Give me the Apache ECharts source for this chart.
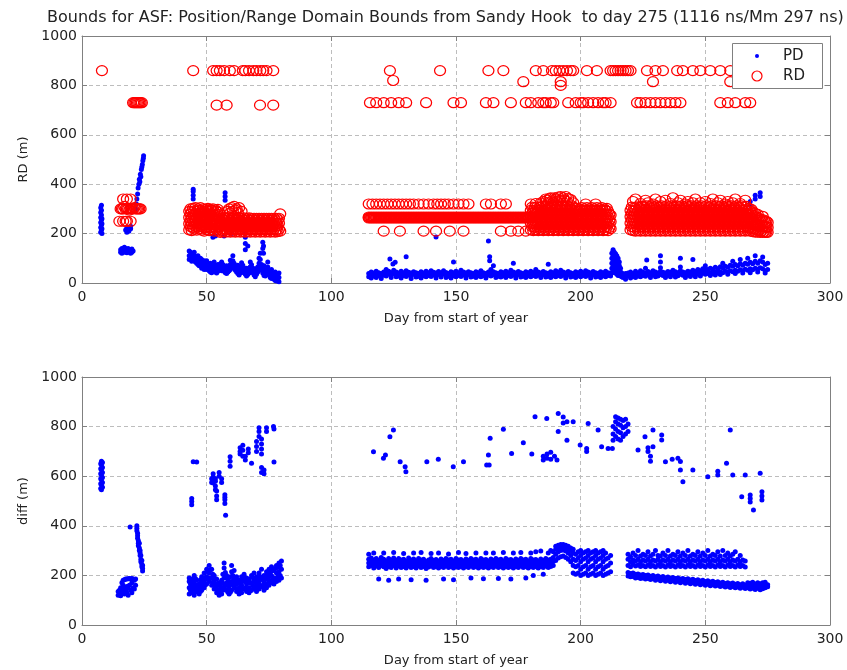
<!DOCTYPE html>
<html><head><meta charset="utf-8">
<script src="https://cdn.jsdelivr.net/npm/echarts@6/dist/echarts.min.js"></script>
<style>html,body{margin:0;padding:0;background:#fff}#c{width:847px;height:670px}</style>
</head><body><div id="c"></div>
<script>
// ---- tick values ----
const xTicks = [0, 50, 100, 150, 200, 250, 300];
const yTicks = [0, 200, 400, 600, 800, 1000];
const titleText = 'Bounds for ASF: Position/Range Domain Bounds from Sandy Hook  to day 275 (1116 ns/Mm 297 ns)';
const legendNames = ['PD', 'RD'];
// rows: [day, value, value, ...]
// ---- PD (top, blue dots) ----
const pdEarly = [
 [7.5,205,225,245,265,285,305],[7.8,215,235,255,275,295,315],[8,200,220,240,260],
 [15.5,125,135],[16,130,140,120],[16.5,128,138],[17,125,135,145],[17.5,130,140,215],[18,122,133,205,225],
 [18.5,128,140],[18.8,210],[19,126,136],[19.5,130,120,220,230],[20,125,138],[20.5,130],
 [21.5,300],[21.8,320],[22,340],[22.3,360],[22.5,385],[22.8,400],[23,420],[23.2,410],[23.4,440],
 [23.6,430],[23.8,460],[24,470],[24.2,480],[24.4,495],[24.6,505],[24.7,515]
];
const pdMid = [
 [43,130,110,95],[43.5,125,100],[44,120,105,88],[44.5,115,95],[44.6,340,355,370,380],[45,110,90,125],[45.5,100,85],
 [46,105,80],[46.5,95,75,110],[47,90,70],[47.5,100,80],[48,95,72,60],[48.5,85,65],[49,90,70,55],
 [49.5,80,60],[50,70,55,90],[50.5,75,58],[51,68,50],[51.5,62,45,80],[52,58,42],[52.5,65,48,185],
 [53,70,52,85],[53.5,60,45,190],[54,55,40],[54.5,62,48,75],[55,70,55],[55.5,78,60],[56,85,66,50],
 [56.5,75,55],[57,65,48,190],[57.4,335,350,365],[57.5,58,42],[58,52,38,70],[58.5,60,45],[59,68,50],
 [59.5,75,55,92],[60,82,62,200],[60.5,90,70,110],[61,80,60],[61.5,70,52],[62,62,45],[62.5,55,38,72],
 [63,48,32],[63.5,58,40],[64,65,48,82],[64.5,72,55],[65,60,42],[65.5,50,35,135,160,185,200],[66,42,28,60],
 [66.5,50,34,150],[67,58,40],[67.5,66,48,85],[68,74,55],[68.5,60,42],[69,48,32],[69.5,40,25,58],
 [70,52,35],[70.5,65,45],[71,80,58,100],[71.5,95,70,120],[72,75,52],[72.5,60,40,140,165],[72.8,120,150],
 [73,50,30,70],[73.5,45,28],[74,55,35],[74.5,65,45,85],[75,50,32],[75.5,40,22],[76,35,18,55],
 [76.5,42,25],[77,30,15],[77.5,25,10,45],[78,20,8],[78.5,30,12],[79,22,5,40]
];
const pdLate = [
 [115,25,38],[116,30,45,20],[117,28,40],[118,22,35,48],[119,30,42],[120,26,38,18],[121,32,45],
 [122,28,40,55],[123,35,48],[123.5,97],[124,30,42,22],[124.7,77],[125,38,52],[125.6,84],[126,32,45,25],
 [127,28,40],[128,34,48,20],[129,30,42],[130,26,38,50,106],[131,32,44],[132,28,40,18],[133,35,46],
 [134,30,42,24],[135,27,38],[136,33,46,20],[137,29,40],[138,35,48,25],[139,30,42],[140,26,37,50],
 [141,32,44],[142,28,40,20,186],[143,34,47],[144,30,42,24],[145,36,50],[146,30,43,22],[147,27,38],
 [148,33,46,20],[149,29,41,85],[150,35,48,25],[151,30,42],[152,26,38,52],[153,32,45],[154,28,40,20],
 [155,34,46],[156,30,42,24],[157,27,38],[158,33,46,22],[159,29,41],[160,35,50,25],[161,30,42],
 [162,26,38,20],[163,32,45,170],[163.5,90,106],[164,28,40,55],[165,34,46,70],[166,30,42,22],[167,27,38],
 [168,33,46,24],[169,29,41],[170,35,48,22],[171,30,42],[172,26,38,52],[173,32,45,80],[174,28,40,20],
 [175,34,47],[176,30,42,24],[177,27,38],[178,33,46,22],[179,29,41],[180,35,48,25],[181,30,43],
 [182,26,39,55],[183,32,45],[184,28,40,22],[185,34,47],[186,30,42,24],[187,27,39,76],[188,33,46,22],
 [189,29,41],[190,35,50,25],[191,30,43],[192,26,38,52],[193,32,45],[194,28,40,20],[195,34,47],
 [196,30,42,24],[197,27,38],[198,33,46,22],[199,29,41],[200,35,48,25],[201,30,42],[202,26,38,50],
 [203,32,45],[204,28,40,20],[205,34,47],[206,30,42,24],[207,27,39],[208,33,46,22],[209,29,41],
 [210,35,48,25],[211,30,42],[212,28,40],
 [212.5,40,60,80,100,120],[213,50,70,90,110,130,135],[213.5,45,65,85,105,125],[214,40,60,80,100,118],
 [214.5,35,55,75,95,110],[215,30,50,70,90,100],[215.5,30,50,70,85],[216,28,45,60],[216.5,25,40],
 [217,22,35],[218,25,38,15],[219,28,40],[220,30,45,20],[221,26,38],[222,32,48,22],[223,28,40],
 [224,35,50,25],[225,30,44],[226,27,40,60],[226.5,93],[227,33,47],[228,29,42,22],[229,35,50],
 [230,31,45,25],[231,28,40],[232,34,48,62,85,110],[233,30,44],[234,27,40,22],[235,33,47],
 [236,30,44,25],[237,36,52],[238,32,46,24],[239,29,42],[240,35,50,65,100],[241,31,45],[242,28,42,22],
 [243,34,48],[244,30,45,26],[245,36,52,95],[246,32,47,25],[247,38,55],[248,34,50,28],[249,40,58],
 [250,35,52,70],[251,38,55],[252,42,60,30],[253,38,56],[254,44,64,32],[255,40,58],[256,46,66,34],
 [257,42,62,80],[258,48,68],[259,44,64,35],[260,50,72],[261,46,68,88],[262,52,75,38],[263,48,70],
 [264,54,78,95],[265,50,72,40],[266,56,80],[267,52,76,100],[268,58,84,42,315,330],[269,54,78],
 [270,60,88,110,340,355],[271,56,80,45],[272,62,90,350,365],[273,58,85,105],[274,50,75,40],[275,55,80]
];
// ---- RD (top, red circles) ----
const rdEarly = [
 [8,860],[15,250],[15.5,300],[16,300],[16.5,250,300,340],[17,310],[17.5,300,250],[18,250,300,340],[18.5,300],[19,295],
 [19.5,250,300,340],[20,300],[20.5,300,730],[21,305,730],[21.5,300,730],[22,300,730],[22.5,300,730],
 [23,300,730],[23.5,300,730],[24,730]
];
const rdMidTop = [
 [44.6,860],[52.6,860],[54,720,860],[55.3,860],[57,860],[58,720],[59.3,860],[61,860],[64.5,860],
 [65.5,860],[67,860],[68.7,860],[70,860],[71.4,720],[71.5,860],[72.7,860],[74,860],[76.7,720,860]
];
const rdMid = [
 [43,215,240,265,290],[43.5,228,252,278,300],[44,212,238,262,288],[44.5,225,250,275,302],[45,218,244,268,292],
 [45.5,230,255,280,305],[46,214,240,266,290],[46.5,226,250,276,300],[47,218,242,268,294],[47.5,230,256,282,305],
 [48,214,238,264,290],[48.5,226,252,278,300],[49,210,236,262,288],[49.5,224,250,276,298],[50,216,242,268,292],
 [50.5,228,254,280,302],[51,212,238,264,290],[51.5,224,250,276,298],[52,216,242,268,294],[52.5,228,254,280,300],
 [53,210,236,262,288],[53.5,222,248,274,296],[54,214,240,266,290],[54.5,226,252,278,298],[55,210,236,262,286],
 [55.5,205,228,252],[56,215,240,262],[56.5,208,232,256],[57,218,242,265],[57.5,206,230,254],[58,216,240,262],
 [58.5,208,232,256,290],[59,218,242,266,300],[59.5,206,230,254,285],[60,216,240,264,305],[60.5,208,232,256,290],
 [61,218,242,266,310],[61.5,206,230,254,295],[62,216,240,264,300],[62.5,208,232,256,285],[63,218,242,266,305],
 [63.5,206,230,254],[64,216,240,262,290],[64.5,208,232,256],[65,218,242,264],[65.5,206,230,254],[66,216,240,262],
 [66.5,208,232,256],[67,218,242,264],[67.5,206,230,254],[68,216,240,262],[68.5,208,232,256],[69,218,242,262],
 [69.5,206,230,254],[70,216,240,262],[70.5,208,232,256],[71,218,242,262],[71.5,206,230,254],[72,216,240,262],
 [72.5,208,232,256],[73,218,242,262],[73.5,206,230,254],[74,216,240,262],[74.5,208,232,256],[75,218,242,262],
 [75.5,206,230,254],[76,216,240,262],[76.5,208,232,256],[77,218,242,262],[77.5,206,230,254],[78,216,240,262],
 [78.5,208,232,256],[79,218,242,262],[79.5,280,210]
];
const rdLateTop = [
 [115.5,730],[118,730],[121,730],[123.5,860],[124,730],[124.8,820],[127,730],[130,730],[138,730],
 [143.6,860],[149,730],[152,730],[162,730],[163,860],[165,730],[169,860],[172,730],[177,815],[178,730],
 [180,730],[182,860],[183,730],[185,730,860],[186,730],[188,730],[188.5,860],[189,730],[190,860],
 [191.5,860],[192,815,800],[193,860],[194.5,860],[195,730],[196,860],[197,860],[198,730],[200,730],
 [201,730],[202.5,860],[203,730],[205,730],[206.5,860],[207,730],[209,730],[210,730],[212,730,860],
 [213,860],[214,860],[215,860],[216,860],[217,860],[218,860],[219,860],[220,860],
 [222.6,730],[224,730],[226,730],[226.6,860],[228,730],[229,815],[230,730,860],[232,730],[233,860],
 [234,730],[236,730],[238,730],[238.7,860],[240,730],[241,860],[245,860],[248,860],[252,860],
 [256,730,860],[259,730],[260,860,815],[262,730],[266,730],[268,730]
];
const rdBand = [
 [115,263,267,320],[115.5,265],[116,263,267],[116.5,265,320],[117,263,267],[117.5,265],[118,263,267,320],
 [118.5,265],[119,263,267],[119.5,265,320],[120,263,267],[120.5,265],[121,263,267,320,210],[121.5,265],
 [122,263,267],[122.5,265,320],[123,263,267],[123.5,265],[124,263,267,320],[124.5,265],[125,263,267],
 [125.5,265,320],[126,263,267],[126.5,265],[127,263,267,320],[127.5,265,210],[128,263,267],[128.5,265,320],
 [129,263,267],[129.5,265],[130,263,267,320],[130.5,265],[131,263,267],[131.5,265,320],[132,263,267],
 [132.5,265],[133,263,267,320],[133.5,265],[134,263,267],[134.5,265],[135,263,267,320],[135.5,265],
 [136,263,267],[136.5,265],[137,263,267,320,210],[137.5,265],[138,263,267],[138.5,265],[139,263,267,320],
 [139.5,265],[140,263,267],[140.5,265],[141,263,267,320],[141.5,265],[142,263,267,210],[142.5,265,320],
 [143,263,267],[143.5,265],[144,263,267,320],[144.5,265],[145,263,267],[145.5,265,320],[146,263,267],
 [146.5,265],[147,263,267,320],[147.5,265,210],[148,263,267],[148.5,265],[149,263,267,320],[149.5,265],
 [150,263,267],[150.5,265],[151,263,267,320],[151.5,265],[152,263,267],[152.5,265],[153,263,267,320,210],
 [153.5,265],[154,263,267],[154.5,265],[155,263,267,320],[155.5,265],[156,263,267],[156.5,265],
 [157,263,267],[157.5,265],[158,263,267],[158.5,265],[159,263,267],[159.5,265],[160,263,267],
 [160.5,265],[161,263,267],[161.5,265],[162,263,267,320],[162.5,265],[163,263,267],[163.5,265],
 [164,263,267,320],[164.5,265],[165,263,267],[165.5,265],[166,263,267],[166.5,265],[167,263,267],
 [167.5,265],[168,263,267,320,210],[168.5,265],[169,263,267],[169.5,265],[170,263,267,320],[170.5,265],
 [171,263,267],[171.5,265],[172,263,267,210],[172.5,265],[173,263,267],[173.5,265],[174,263,267],
 [174.5,265],[175,263,267,210],[175.5,265],[176,263,267],[176.5,265],[177,263,267],[177.5,265],
 [178,263,267,210],[178.5,265],[179,263,267],[179.5,265]
];
const rdCluster1 = [
 [180,215,242,268,294,320],[180.5,228,255,281,307],[181,212,240,266,292],[181.5,225,252,278,305],
 [182,215,242,268,296,322],[182.5,228,255,282,308],[183,212,240,266,292],[183.5,225,252,279,306],
 [184,215,242,268,296,324],[184.5,228,255,282,310],[185,212,240,266,294,330],[185.5,225,252,280,308],
 [186,215,242,268,296,340],[186.5,228,255,282,312,335],[187,212,240,266,294,325],[187.5,225,252,280,308,342],
 [188,215,242,268,296,345],[188.5,228,255,282,312,332],[189,212,240,266,294,325],[189.5,225,252,280,308,345],
 [190,215,242,268,296,340],[190.5,228,255,282,312,330],[191,212,240,266,294,348],[191.5,225,252,280,308,335],
 [192,215,242,268,296,350],[192.5,228,255,282,312,332],[193,212,240,266,294,345],[193.5,225,252,280,308,335],
 [194,215,242,268,296,350],[194.5,228,255,282,312,330],[195,212,240,266,294,342],[195.5,225,252,280,308],
 [196,215,242,268,296,338],[196.5,228,255,282,312],[197,212,240,266,294,325],[197.5,225,252,280,305],
 [198,215,242,268,292],[198.5,228,255,280,302],[199,212,240,266,290],[199.5,225,252,278,300],
 [200,215,242,268,294],[200.5,228,255,280,305],[201,212,240,266,292],[201.5,225,252,278,300],
 [202,215,242,268,294,320],[202.5,228,255,280,305],[203,212,240,266,292],[203.5,225,252,278,300],
 [204,215,242,268,294],[204.5,228,255,280,305],[205,212,240,266,292],[205.5,225,252,278,300],
 [206,215,242,268,294,320],[206.5,228,255,280,305],[207,212,240,266,292],[207.5,225,252,278,300],
 [208,215,242,268,294],[208.5,228,255,280,305],[209,212,240,266,292],[209.5,225,252,278,300],
 [210,215,242,268,294],[210.5,228,255,280,302],[211,212,240,266,290],[211.5,225,252,278],[212,220,248,275]
];
const rdCluster2 = [
 [220,215,242,268,294],[220.5,228,255,281,307],[221,212,240,266,292,330],[221.5,225,252,278,305],
 [222,210,242,268,296,340],[222.5,228,255,282,308],[223,212,240,266,292],[223.5,225,252,279,306],
 [224,210,242,268,296,322],[224.5,228,255,282,310],[225,212,240,266,294],[225.5,225,252,280,308],
 [226,210,242,268,296,335],[226.5,228,255,282,312],[227,212,240,266,294,325],[227.5,225,252,280,308],
 [228,210,242,268,296],[228.5,228,255,282,312],[229,212,240,266,294,320],[229.5,225,252,280,308],
 [230,210,242,268,296,340],[230.5,228,255,282,312],[231,212,240,266,294],[231.5,225,252,280,308],
 [232,210,242,268,296,330],[232.5,228,255,282,312],[233,212,240,266,294],[233.5,225,252,280,308],
 [234,210,242,268,296,335],[234.5,228,255,282,312],[235,212,240,266,294],[235.5,225,252,280,308],
 [236,210,242,268,296,322],[236.5,228,255,282,312],[237,212,240,266,294,345],[237.5,225,252,280,308],
 [238,210,242,268,296],[238.5,228,255,282,312],[239,212,240,266,294,325],[239.5,225,252,280,308],
 [240,210,242,268,296,335],[240.5,228,255,282,312],[241,212,240,266,294],[241.5,225,252,280,308],
 [242,210,242,268,296,320],[242.5,228,255,282,312],[243,212,240,266,294,330],[243.5,225,252,280,308],
 [244,210,242,268,296],[244.5,228,255,282,312],[245,212,240,266,294,325],[245.5,225,252,280,308],
 [246,210,242,268,296,340],[246.5,228,255,282,312],[247,212,240,266,294],[247.5,225,252,280,308],
 [248,210,242,268,296,325],[248.5,228,255,282,312],[249,212,240,266,294],[249.5,225,252,280,308],
 [250,210,242,268,296,330],[250.5,228,255,282,312],[251,212,240,266,294],[251.5,225,252,280,308],
 [252,210,242,268,296,322],[252.5,228,255,282,312],[253,212,240,266,294,340],[253.5,225,252,280,308],
 [254,210,242,268,296],[254.5,228,255,282,312],[255,212,240,266,294,325],[255.5,225,252,280,308],
 [256,210,242,268,296,335],[256.5,228,255,282,312],[257,212,240,266,294],[257.5,225,252,280,308],
 [258,210,242,268,296,320],[258.5,228,255,282,312],[259,212,240,266,294,330],[259.5,225,252,280,308],
 [260,210,242,268,296],[260.5,228,255,282,312],[261,212,240,266,294,325],[261.5,225,252,280,308],
 [262,210,242,268,296,340],[262.5,228,255,282,312],[263,212,240,266,294],[263.5,225,252,280,308],
 [264,210,242,268,296,322],[264.5,228,255,282,312],[265,212,240,266,294],[265.5,225,252,280,308],
 [266,210,242,268,296,335],[266.5,228,255,282,310],[267,212,240,266,292],[267.5,222,250,278,302],
 [268,210,238,264,290],[268.5,220,248,276,298],[269,208,236,262,288],[269.5,218,246,272],
 [270,206,232,258,282],[270.5,216,242,268],[271,206,230,255,278],[271.5,212,238,262],
 [272,205,228,252],[272.5,210,235,258],[273,205,228,250,270],[273.5,208,232,255],
 [274,205,225,248],[274.5,206,228,250],[275,205,225,245]
];
// ---- diff (bottom, blue dots) ----
const diffEarly = [
 [7.5,550,570,590,610,630,650],[7.8,545,565,585,605,625,645,660],[8.2,555,575,595,615,635,655],
 [14.5,120,135],[15,125,140],[15.5,118,130,150],[16,128,145,170],[16.5,135,160,180],[17,125,150,182],
 [17.5,140,185],[18,130,155,185],[18.5,120,150,186],[19,160,188],[19.3,395],[19.5,140,185],
 [20,130,170,188],[20.5,150,185],[21,145,180],[21.5,160,185],
 [22,400,390,380],[22.3,370,360,350],[22.6,340,330,320],[23,330,310,300],[23.3,300,290,280],
 [23.6,280,265,255],[24,260,245,235],[24.3,240,228,218]
];
const diffMid = [
 [43,125,150,175,190],[43.5,140,165],[44,130,160,185,485,498,510],[44.5,150,175],[44.6,658],[45,120,145,170,200],
 [45.5,132,160,188],[46,135,155,180,657],[46.5,140,162],[47,125,150,165],[47.5,135,158,182],[48,140,170,195],
 [48.5,155,185],[49,150,175,210],[49.5,162,192],[50,165,195,225],[50.5,185,215],[51,175,210,240],[51.5,190,222],
 [52,160,190,225,575,590],[52.5,172,205],[52.6,573,585,597,610],[53,145,170,200],[53.5,580,590,560,545,158,185],
 [54,130,155,185,540,520,505],[54.5,140,168],[55,120,140,170,600,615],[55.5,130,158],[56,125,150,180,575,590],
 [56.5,140,168,205],[57,150,190,230,250],[57.3,490,505,515,525],[57.5,162,212],[57.6,443],[58,140,170,200],
 [58.5,132,158,185],[59,125,150,175],[59.4,678,660,640],[59.5,132,162,195],[60,140,175,215,240],[60.5,165,200],
 [61,155,185,220],[61.5,148,178],[62,135,165,195],[62.5,140,172],[63,125,150,180],[63.4,715,700,690],
 [63.5,138,165],[64,130,160,195],[64.5,725,705,680,145,178],[65,145,175,205],[65.5,665,680,150,190],
 [66,135,165,190],[66.5,142,178],[66.7,695,710],[67,130,150,185],[67.5,138,168],[68,140,170,200,652],
 [68.5,158,192],[69,150,180,210],[69.5,145,172],[70,135,165,195,700,720,740],[70.5,152,185],
 [71,145,175,210,760,780,795],[71.5,160,195],[72,155,190,225,690,710,730,750,615,635],[72.5,152,182],
 [73,140,170,200,610,625],[73.5,158,192],[74,150,185,215,780,795],[74.5,168,205],[75,160,195,225],
 [75.5,178,212],[76,170,200,235],[76.5,182,220],[76.8,800],[77,165,190,220,790,657],[77.5,188,228],
 [78,175,210,240],[78.5,195,232],[79,180,215,250],[79.5,200,240],[80,190,225,258]
];
const diffUpper = [
 [116.9,699],[120.9,672],[121.7,685],[123.5,759],[124.9,786],[127.6,658],[129.6,638],[129.9,618],
 [138.3,658],[142.9,668],[148.9,638],[153,658],[162.3,645],[163.3,645],[163,685],[163.7,753],
 [169,789],[172.3,692],[177,735],[180.4,690],[181.7,840],[186.4,833],[185,665,680],[186.5,672,690],
 [188,668,697],[189.5,680],[190.5,665],[191,853,780],[193,815,839],[194.5,820,745],[197,820],
 [199.8,726],[202.4,712,700],[203,813],[207,786],[208.4,719],[211,712],[212.7,712],
 [213,745,770,800],[214,760,790,820,840],[215,750,780,810,835],[216,745,775,805,830],[217,760,795,825],
 [218,770,800,830],[219,780,810],
 [223,706],[225.8,759],[227,700,715],[228,680,660],[229,786,719],[232.5,746,766],[234,658],[236.7,668],
 [239,672],[240,625,659],[241,578],[245,625],[251,598],[255,605,620],[258.5,652],[260,786],[261,605],
 [264.6,517],[266,605],[268,496,510,524],[269.3,464],[272,612],[272.7,504,520,537]
];
const diffLate = [
 [115,235,250,265,285],[116,240,255,270],[117,230,248,262,290],[118,238,252,268],[119,232,246,260,185],
 [120,240,255,272],[121,235,250,265,290],[122,228,244,258],[123,236,252,268,180],[124,232,248,262],
 [125,240,255,270,292],[126,230,245,260],[127,238,252,268,185],[128,232,248,262],[129,236,250,265,288],
 [130,230,245,258],[131,238,254,270],[132,232,248,262,182],[133,236,250,266,290],[134,230,244,258],
 [135,238,252,268],[136,232,248,262,292],[137,236,250,265],[138,228,242,256,180],[139,234,248,262],
 [140,238,252,268,288],[141,232,246,260],[142,236,250,264],[143,230,244,258,290],[144,236,250,266],
 [145,232,246,260,185],[146,238,252,268],[147,232,246,262,286],[148,236,250,265],[149,230,244,258,182],
 [150,236,252,268],[151,232,246,262,292],[152,236,250,264],[153,230,244,258],[154,236,250,266,288],
 [155,232,246,260],[156,238,252,268,190],[157,232,246,262],[158,236,250,265,290],[159,230,244,258],
 [160,236,252,268],[161,232,246,262,186],[162,236,250,264,290],[163,230,244,258],[164,236,250,266],
 [165,232,246,260,290],[166,238,252,268],[167,232,246,262,188],[168,236,250,265],[169,230,244,258,292],
 [170,236,252,268],[171,232,246,262],[172,236,250,264,185],[173,230,244,258,290],[174,236,250,266],
 [175,232,246,260],[176,238,252,268,292],[177,232,246,262],[178,236,250,265,190],[179,230,244,258],
 [180,236,252,268,290],[181,232,246,262,200],[182,236,250,264,295],[183,230,244,258],[184,236,250,266,298],
 [185,232,246,260,205],[186,238,252,268],[187,232,246,262,290],[188,236,250,265,300],[189,240,256,272,295],
 [190,260,285,305,318],[191,270,295,312,322],[192,275,300,315,325],[193,278,302,318,325],
 [194,272,298,315,322],[195,265,290,308,318],[196,255,280,300,310],[197,210,240,265,290,305],
 [198,205,235,260,285],[199,210,240,270,295],[200,200,225,255,280,300],[201,205,235,265,290],
 [202,210,240,270,295],[203,200,225,255,280,300],[204,205,235,265,290],[205,210,240,270,295],
 [206,200,225,255,280,300],[207,205,235,265,290],[208,210,240,270,295],[209,200,225,255,280,300],
 [210,205,235,265,290],[211,210,240,270],[212,215,250,280],
 [219,198,212,240,265,285],[220,195,208,235,255,275],[221,196,210,245,262,290],[222,190,205,238,258,280],
 [223,192,206,242,265,300],[224,188,202,236,255,278],[225,190,204,240,262,285],[226,185,200,235,258,280],
 [227,188,202,242,265,295],[228,183,197,236,255,278],[229,186,200,240,262,285],[230,180,195,234,258,300],
 [231,184,198,242,265,280],[232,178,193,236,255,278],[233,182,196,240,262,290],[234,176,190,234,258,280],
 [235,180,194,242,265,300],[236,174,189,236,255,278],[237,178,192,240,262,285],[238,172,187,234,258,280],
 [239,176,190,242,265,295],[240,170,185,236,255,278],[241,174,188,240,262,290],[242,168,183,234,258,280],
 [243,172,186,242,265,300],[244,166,181,236,255,278],[245,170,184,240,262,285],[246,164,179,234,258,280],
 [247,168,182,242,265,295],[248,162,177,236,255,278],[249,166,180,240,262,290],[250,160,175,234,258,280],
 [251,164,178,242,265,300],[252,158,173,236,255,278],[253,162,176,240,262,285],[254,157,171,234,258,280],
 [255,160,174,242,265,295],[256,155,169,236,255,278],[257,158,172,240,262,300],[258,153,167,234,258,280],
 [259,156,170,242,265,290],[260,151,166,236,255,278],[261,155,169,240,262,285],[262,150,164,234,258,295],
 [263,153,167,242,265],[264,148,162,236,255,280],[265,152,166,240,262],[266,147,160,234,258],
 [267,160,150,170],[268,155,145,168],[269,158,148,172],[270,153,143,165],[271,157,148,170],
 [272,152,142,166],[273,156,146,170],[274,150,160,172],[275,154,162]
];

function expand(rows) {
  const out = [];
  rows.forEach(r => { for (let i = 1; i < r.length; i++) out.push([r[0], r[i]]); });
  return out;
}
const pd = [pdEarly, pdMid, pdLate].map(expand).flat();
const rd = [rdEarly, rdMidTop, rdMid, rdLateTop, rdBand, rdCluster1, rdCluster2].map(expand).flat();
const diff = [diffEarly, diffMid, diffUpper, diffLate].map(expand).flat();

const FONT = 'DejaVu Sans';
const axisColor = '#808080';
const txtColor = '#222';
const gridLine = {show: true, lineStyle: {color: '#bdbdbd', type: [4, 3], width: 1}};
const plain = v => String(v);
function xMain(g) {
  return {type: 'value', gridIndex: g, min: xTicks[0], max: xTicks[xTicks.length - 1], interval: 50,
    position: 'bottom',
    name: 'Day from start of year', nameLocation: 'middle', nameGap: 29,
    nameTextStyle: {fontSize: 13, color: txtColor, fontFamily: FONT},
    axisLine: {show: true, onZero: false, lineStyle: {color: axisColor}},
    axisTick: {show: true, inside: true, length: 5, lineStyle: {color: axisColor}},
    axisLabel: {fontSize: 14, color: txtColor, margin: 7, fontFamily: FONT, formatter: plain},
    splitLine: gridLine};
}
function xMirror(g) {
  return {type: 'value', gridIndex: g, min: 0, max: 300, interval: 50, position: 'top',
    axisLine: {show: true, onZero: false, lineStyle: {color: axisColor}},
    axisTick: {show: true, inside: true, length: 5, lineStyle: {color: axisColor}},
    axisLabel: {show: false}, splitLine: {show: false}};
}
function yMain(g, name) {
  return {type: 'value', gridIndex: g, min: yTicks[0], max: yTicks[yTicks.length - 1], interval: 200,
    position: 'left',
    name: name, nameLocation: 'middle', nameGap: 43, nameRotate: 90,
    nameTextStyle: {fontSize: 13, color: txtColor, fontFamily: FONT},
    axisLine: {show: true, onZero: false, lineStyle: {color: axisColor}},
    axisTick: {show: true, inside: true, length: 5, lineStyle: {color: axisColor}},
    axisLabel: {fontSize: 14, color: txtColor, margin: 5, fontFamily: FONT, formatter: plain},
    splitLine: gridLine};
}
function yMirror(g) {
  return {type: 'value', gridIndex: g, min: 0, max: 1000, interval: 200, position: 'right',
    axisLine: {show: true, onZero: false, lineStyle: {color: axisColor}},
    axisTick: {show: true, inside: true, length: 5, lineStyle: {color: axisColor}},
    axisLabel: {show: false}, splitLine: {show: false}};
}

const chart = echarts.init(document.getElementById('c'), null, {renderer: 'canvas'});
chart.setOption({
  animation: false,
  backgroundColor: '#ffffff',
  textStyle: {fontFamily: FONT},
  title: {text: titleText, left: 42, top: 5,
    textStyle: {fontSize: 16, fontWeight: 'normal', color: txtColor, fontFamily: FONT}},
  grid: [
    {left: 82, top: 36, width: 748, height: 247},
    {left: 82, top: 377, width: 748, height: 248}
  ],
  xAxis: [xMain(0), xMirror(0), xMain(1), xMirror(1)],
  yAxis: [yMain(0, 'RD (m)'), yMirror(0), yMain(1, 'diff (m)'), yMirror(1)],
  graphic: [
    {type: 'rect', left: 732, top: 43, z: 10, shape: {width: 90, height: 45},
     style: {fill: '#fff', stroke: '#808080', lineWidth: 1}},
    {type: 'circle', z: 11, shape: {cx: 757, cy: 56, r: 2}, style: {fill: '#0000ff'}},
    {type: 'circle', z: 11, shape: {cx: 757, cy: 76, r: 5}, style: {fill: 'none', stroke: '#ff0000', lineWidth: 1.2}},
    {type: 'text', z: 11, x: 783, y: 56, style: {text: legendNames[0], fill: txtColor, font: '15px "DejaVu Sans"', verticalAlign: 'middle'}},
    {type: 'text', z: 11, x: 783, y: 76, style: {text: legendNames[1], fill: txtColor, font: '15px "DejaVu Sans"', verticalAlign: 'middle'}}
  ],
  series: [
    {name: 'PD', type: 'scatter', xAxisIndex: 0, yAxisIndex: 0, data: pd, large: false,
     symbol: 'circle', symbolSize: 5, itemStyle: {color: '#0000ff', opacity: 1}},
    {name: 'RD', type: 'scatter', xAxisIndex: 0, yAxisIndex: 0, data: rd, large: false,
     symbol: 'circle', symbolSize: [11, 10],
     itemStyle: {color: 'rgba(0,0,0,0)', borderColor: '#ff0000', borderWidth: 1.2, opacity: 1}},
    {name: 'diff', type: 'scatter', xAxisIndex: 2, yAxisIndex: 2, data: diff, large: false,
     symbol: 'circle', symbolSize: 5, itemStyle: {color: '#0000ff', opacity: 1}}
  ]
});
</script>
</body></html>
